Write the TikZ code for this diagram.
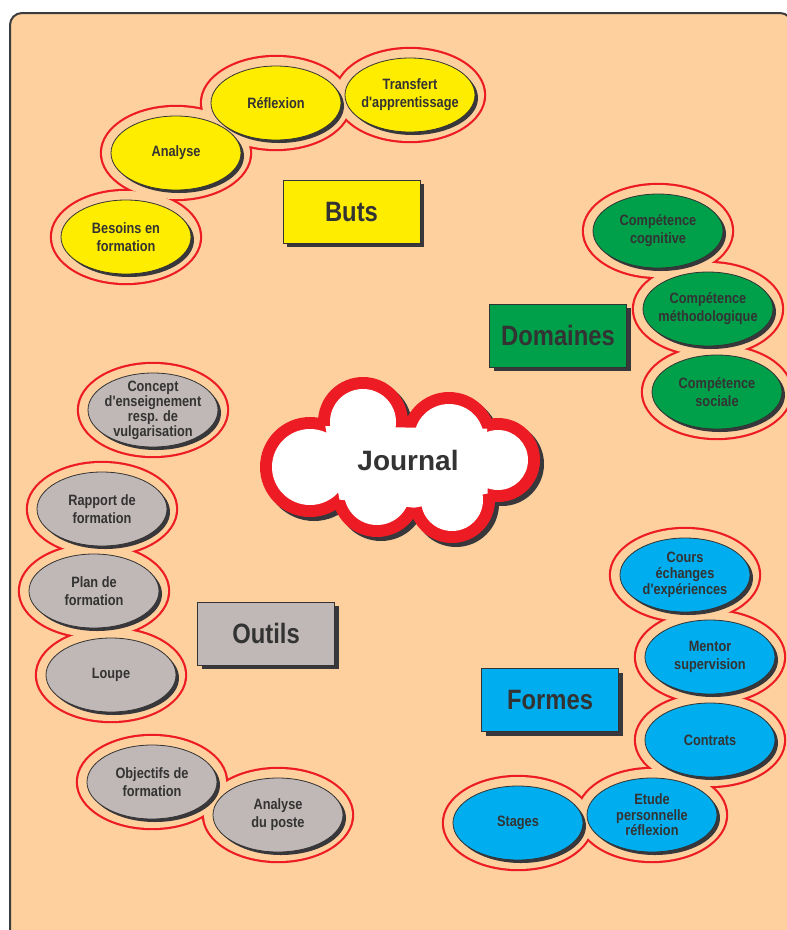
\documentclass[tikz,border=0pt]{standalone}
\usepackage{fontspec}
\setmainfont{Liberation Sans}
\newfontfamily\nfont[FakeStretch=0.85]{Liberation Sans}
\usetikzlibrary{shapes.geometric}
\definecolor{peach}{RGB}{253,208,158}
\definecolor{ringred}{RGB}{237,28,36}
\definecolor{ink}{RGB}{51,51,51}
\definecolor{shad}{RGB}{55,55,60}
\definecolor{framegray}{RGB}{60,60,60}
\definecolor{cyel}{RGB}{255,237,0}
\definecolor{cgreen}{RGB}{0,160,75}
\definecolor{cblue}{RGB}{0,174,239}
\definecolor{cgray}{RGB}{192,184,182}
\pgfdeclarelayer{bg}
\pgfdeclarelayer{rings}
\pgfdeclarelayer{ringfill}
\pgfsetlayers{bg,rings,ringfill,main}
\tikzset{
  inell/.style={ellipse, draw=ink, line width=0.8pt, minimum width=130pt, minimum height=74pt, inner sep=0pt},
  lbl/.style={font=\nfont\bfseries\fontsize{15}{18}\selectfont, text=ink, align=center, inner sep=0pt},
  catrect/.style={draw=ink, line width=0.8pt, minimum width=137pt, minimum height=63pt, inner sep=0pt,
                  font=\nfont\bfseries\fontsize{28}{30}\selectfont, text=ink},
}
% #1 extra label options, #2 name, #3 x, #4 y, #5 colour, #6 text
\newcommand\bubble[6][]{%
  \begin{pgfonlayer}{rings}
    \path[draw=ringred, line width=4.4pt] (#3,#4) ellipse (74 and 46);
  \end{pgfonlayer}
  \begin{pgfonlayer}{ringfill}
    \path[fill=peach] (#3,#4) ellipse (74 and 46);
  \end{pgfonlayer}
  \fill[shad] (#3+3,#4+3) ellipse (65 and 37);
  \node[inell, fill=#5] (#2) at (#3,#4) {};
  \node[lbl,#1] (#2-t) at (#2) {#6};
}
% #1 name, #2 x, #3 y, #4 colour, #5 text
\newcommand\catbox[5]{%
  \fill[shad] (#2-68.5+4,#3-31.5+4) rectangle (#2+68.5+4,#3+31.5+4);
  \node[catrect, fill=#4] (#1) at (#2,#3) {#5};
}
% cloud outline (outer radii) and its interior
\newcommand\cloudouter{(310,467) circle (50) (363,422) circle (45) (449,439) circle (47)
  (498,460) circle (42) (452,500) circle (43) (377,492) circle (45)
  (310,467) -- (363,422) -- (449,439) -- (498,460) -- (452,500) -- (377,492) -- cycle}
\newcommand\cloudinner{(310,467) circle (38) (363,422) circle (33) (449,439) circle (35)
  (498,460) circle (30) (452,500) circle (31) (377,492) circle (33)
  (325.3,426.1) -- (405.6,427.5) -- (487,428.6) -- (487.7,493.5) -- (414.4,507.7) -- (339.5,499.6) -- cycle}
\begin{document}
\begin{tikzpicture}[x=1pt,y=-1pt]
\useasboundingbox (0,0) rectangle (787,930);
\clip (0,0) rectangle (787,930);
\begin{pgfonlayer}{bg}
  \fill[white] (0,0) rectangle (787,930);
  \draw[draw=framegray, fill=peach, line width=2pt, rounded corners=12pt] (10,13) rectangle (792,950);
\end{pgfonlayer}

% Buts group
\bubble{besoins}{126}{237}{cyel}{Besoins en\\formation}
\bubble{analyse}{176}{153}{cyel}{Analyse}
\bubble{reflexion}{276}{103}{cyel}{Réflexion}
\bubble{transfert}{410}{95}{cyel}{Transfert\\d'apprentissage}
\catbox{buts}{351.5}{211.5}{cyel}{Buts}

% Domaines group
\bubble{cognitive}{658}{231}{cgreen}{Compétence\\cognitive}
\bubble{methodo}{708}{309}{cgreen}{Compétence\\méthodologique}
\bubble{sociale}{717}{392}{cgreen}{Compétence\\sociale}
\catbox{domaines}{558}{335.5}{cgreen}{Domaines}

% Outils group
\bubble[font=\nfont\bfseries\fontsize{15}{13.5}\selectfont]{concept}{153}{410}{cgray}{Concept\\d'enseignement\\resp. de\\vulgarisation}
\bubble{rapport}{102}{509}{cgray}{Rapport de\\formation}
\bubble{plan}{94}{591}{cgray}{Plan de\\formation}
\bubble{loupe}{111}{675}{cgray}{Loupe}
\bubble{objectifs}{152}{782}{cgray}{Objectifs de\\formation}
\bubble{poste}{278}{815}{cgray}{Analyse\\du poste}
\catbox{outils}{266}{633.5}{cgray}{Outils}

% Formes group
\bubble[font=\nfont\bfseries\fontsize{15}{16}\selectfont]{cours}{685}{575}{cblue}{Cours\\échanges\\d'expériences}
\bubble{mentor}{710}{657}{cblue}{Mentor\\supervision}
\bubble{contrats}{710}{740}{cblue}{Contrats}
\bubble[font=\nfont\bfseries\fontsize{15}{15.5}\selectfont]{etude}{652}{815}{cblue}{Etude\\personnelle\\réflexion}
\bubble{stages}{518}{823}{cblue}{Stages}
\catbox{formes}{550}{700}{cblue}{Formes}

% Cloud
\begin{scope}[shift={(4,4)}]
  \fill[shad] \cloudouter;
\end{scope}
\fill[ringred] \cloudouter;
\fill[white] \cloudinner;
\node[font=\bfseries\fontsize{28}{30}\selectfont, text=ink] (journal) at (408,460) {Journal};
\end{tikzpicture}
\end{document}
